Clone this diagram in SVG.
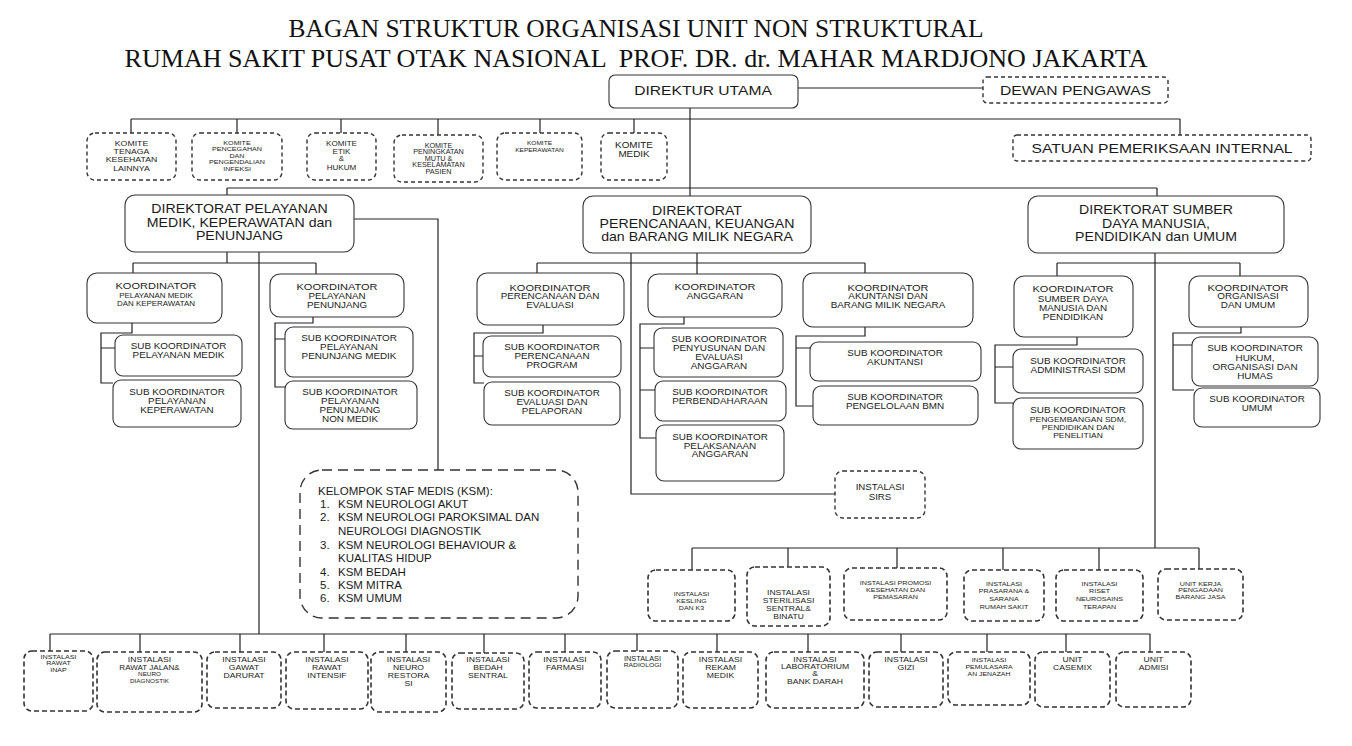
<svg xmlns="http://www.w3.org/2000/svg" width="1352" height="746" viewBox="0 0 1352 746">
<style>
text{font-family:"Liberation Sans",Arial,sans-serif;fill:#1a1a1a}
.title{font-family:"Liberation Serif","Times New Roman",serif;font-size:26px;text-anchor:middle;fill:#111}
.n{text-anchor:middle;dominant-baseline:central}
.ksm{font-size:11.5px;dominant-baseline:central}
.box{fill:#fff;stroke:#333;stroke-width:1.1}
.dbox{fill:#fff;stroke:#333;stroke-width:1.4;stroke-dasharray:4 3}
.dbox2{fill:#fff;stroke:#333;stroke-width:1.6;stroke-dasharray:5 3}
.kbox{fill:#fff;stroke:#333;stroke-width:1.4;stroke-dasharray:10 6}
.ln{fill:none;stroke:#222;stroke-width:1.2}
</style>
<rect width="1352" height="746" fill="#fff"/>
<text class="title" x="636" y="37" textLength="695" lengthAdjust="spacingAndGlyphs">BAGAN STRUKTUR ORGANISASI UNIT NON STRUKTURAL</text>
<text class="title" x="636" y="67" textLength="1023" lengthAdjust="spacingAndGlyphs" xml:space="preserve">RUMAH SAKIT PUSAT OTAK NASIONAL  PROF. DR. dr. MAHAR MARDJONO JAKARTA</text>

<g id="connectors" class="ln">
<path d="M798,88 H983"/>
<path d="M690,108 V196"/>
<path d="M131,119 H1180"/>
<path d="M131,119 V133 M237,119 V133 M341,119 V133 M438,119 V135 M540,119 V133 M634,119 V133 M1180,119 V135"/>
<path d="M227,188 H1157 M227,188 V195 M1157,188 V196"/>
<path d="M354,219 H438 V470"/>
<path d="M227,252 V263 M133,263 H316 M133,263 V273 M316,263 V274"/>
<path d="M259,252 V634"/>
<path d="M132,323 V333 H101 V383 H113 M101,348 H115"/>
<path d="M313,317 V323 H275 V387 H285 M275,339 H285"/>
<path d="M697,253 V274 M537,263 H865 M537,263 V273 M865,263 V273"/>
<path d="M631,253 V494 H835"/>
<path d="M543,325 V333 H474 V383 H484 M474,356 H483"/>
<path d="M684,317 V324 H640 V438 H656 M640,348 H654 M640,390 H655"/>
<path d="M865,327 V336 H796 V406 H813 M796,348 H810"/>
<path d="M1155,253 V548"/>
<path d="M1057,263 H1240 M1057,263 V276 M1240,263 V276"/>
<path d="M1077,337 V345 H995 V403 H1013 M995,367 H1013"/>
<path d="M1241,327 V333 H1173 V390 H1194 M1173,345 H1192"/>
<path d="M692,548 H1199 M692,548 V570 M788,548 V567 M897,548 V568 M1003,548 V570 M1099,548 V570 M1199,548 V569"/>
<path d="M50,634 H1150 M50,634 V651 M140,634 V652 M240,634 V652 M324,634 V652 M406,634 V652 M484,634 V653 M565,634 V652 M637,634 V651 M717,634 V652 M808,634 V652 M901,634 V652 M987,634 V652 M1066,634 V652 M1150,634 V652"/>
</g>

<g id="direktur-utama"><rect class="box" x="609" y="75" width="189" height="33" rx="6"/>
<text class="n" font-size="13.6" transform="matrix(1.15 0 0 1 703 0)"><tspan x="0" y="90">DIREKTUR UTAMA</tspan></text></g>
<g id="dewan-pengawas"><rect class="dbox" x="983" y="77" width="185" height="26" rx="4"/>
<text class="n" font-size="13.6" transform="matrix(1.15 0 0 1 1075.5 0)"><tspan x="0" y="90">DEWAN PENGAWAS</tspan></text></g>
<g id="spi"><rect class="dbox" x="1013" y="135" width="298" height="26" rx="4"/>
<text class="n" font-size="13.6" transform="matrix(1.15 0 0 1 1162 0)"><tspan x="0" y="148">SATUAN PEMERIKSAAN INTERNAL</tspan></text></g>

<g id="komite-tkl"><rect class="dbox" x="87" y="133" width="89" height="47" rx="8"/>
<text class="n" font-size="7.6" transform="matrix(1.15 0 0 1 131.5 0)"><tspan x="0" y="143">KOMITE</tspan><tspan x="0" y="151">TENAGA</tspan><tspan x="0" y="159">KESEHATAN</tspan><tspan x="0" y="168">LAINNYA</tspan></text></g>
<g id="komite-ppi"><rect class="dbox" x="192" y="133" width="90" height="47" rx="8"/>
<text class="n" font-size="6.2" transform="matrix(1.15 0 0 1 237 0)"><tspan x="0" y="142">KOMITE</tspan><tspan x="0" y="148.5">PENCEGAHAN</tspan><tspan x="0" y="155">DAN</tspan><tspan x="0" y="161.5">PENGENDALIAN</tspan><tspan x="0" y="168">INFEKSI</tspan></text></g>
<g id="komite-etik"><rect class="dbox" x="307" y="133" width="69" height="47" rx="8"/>
<text class="n" font-size="7" transform="matrix(1.15 0 0 1 341.5 0)"><tspan x="0" y="143">KOMITE</tspan><tspan x="0" y="151">ETIK</tspan><tspan x="0" y="158">&amp;</tspan><tspan x="0" y="167">HUKUM</tspan></text></g>
<g id="komite-mutu"><rect class="dbox" x="394" y="135" width="89" height="47" rx="8"/>
<text class="n" font-size="6.3" transform="matrix(1.15 0 0 1 438.5 0)"><tspan x="0" y="145">KOMITE</tspan><tspan x="0" y="151.5">PENINGKATAN</tspan><tspan x="0" y="158">MUTU &amp;</tspan><tspan x="0" y="164.5">KESELAMATAN</tspan><tspan x="0" y="171">PASIEN</tspan></text></g>
<g id="komite-keperawatan"><rect class="dbox" x="497" y="133" width="85" height="47" rx="8"/>
<text class="n" font-size="5.7" transform="matrix(1.15 0 0 1 539.5 0)"><tspan x="0" y="142">KOMITE</tspan><tspan x="0" y="149">KEPERAWATAN</tspan></text></g>
<g id="komite-medik"><rect class="dbox" x="601" y="133" width="66" height="47" rx="8"/>
<text class="n" font-size="8.6" transform="matrix(1.15 0 0 1 634 0)"><tspan x="0" y="145">KOMITE</tspan><tspan x="0" y="154">MEDIK</tspan></text></g>

<g id="dir-pelayanan"><rect class="box" x="125" y="195" width="229" height="57" rx="10"/>
<text class="n" font-size="12.3" transform="matrix(1.15 0 0 1 239.5 0)"><tspan x="0" y="208">DIREKTORAT PELAYANAN</tspan><tspan x="0" y="222">MEDIK, KEPERAWATAN dan</tspan><tspan x="0" y="235">PENUNJANG</tspan></text></g>
<g id="dir-perencanaan"><rect class="box" x="583" y="196" width="228" height="57" rx="10"/>
<text class="n" font-size="12.3" transform="matrix(1.15 0 0 1 697 0)"><tspan x="0" y="210">DIREKTORAT</tspan><tspan x="0" y="223">PERENCANAAN, KEUANGAN</tspan><tspan x="0" y="236">dan BARANG MILIK NEGARA</tspan></text></g>
<g id="dir-sdm"><rect class="box" x="1028" y="196" width="256" height="57" rx="10"/>
<text class="n" font-size="12.3" transform="matrix(1.15 0 0 1 1156 0)"><tspan x="0" y="209">DIREKTORAT SUMBER</tspan><tspan x="0" y="223">DAYA MANUSIA,</tspan><tspan x="0" y="236">PENDIDIKAN dan UMUM</tspan></text></g>

<g id="koord-pelayanan-medik"><rect class="box" x="87" y="273" width="135" height="50" rx="10"/>
<text class="n" font-size="9.6" transform="matrix(1.15 0 0 1 156 0)"><tspan x="0" y="285">KOORDINATOR</tspan><tspan x="0" y="295" font-size="6.9">PELAYANAN MEDIK</tspan><tspan x="0" y="303" font-size="6.9">DAN KEPERAWATAN</tspan></text></g>
<g id="koord-penunjang"><rect class="box" x="270" y="274" width="134" height="43" rx="10"/>
<text class="n" font-size="9.6" transform="matrix(1.15 0 0 1 337 0)"><tspan x="0" y="286">KOORDINATOR</tspan><tspan x="0" y="296" font-size="8.5">PELAYANAN</tspan><tspan x="0" y="305" font-size="8.5">PENUNJANG</tspan></text></g>
<g id="sub-pelayanan-medik"><rect class="box" x="115" y="335" width="127" height="41" rx="8"/>
<text class="n" font-size="8.6" transform="matrix(1.15 0 0 1 178.5 0)"><tspan x="0" y="346">SUB KOORDINATOR</tspan><tspan x="0" y="355">PELAYANAN MEDIK</tspan></text></g>
<g id="sub-keperawatan"><rect class="box" x="113" y="380" width="128" height="47" rx="8"/>
<text class="n" font-size="8.6" transform="matrix(1.15 0 0 1 177 0)"><tspan x="0" y="392">SUB KOORDINATOR</tspan><tspan x="0" y="401">PELAYANAN</tspan><tspan x="0" y="410">KEPERAWATAN</tspan></text></g>
<g id="sub-penunjang-medik"><rect class="box" x="285" y="327" width="128" height="50" rx="8"/>
<text class="n" font-size="8.6" transform="matrix(1.15 0 0 1 349 0)"><tspan x="0" y="338">SUB KOORDINATOR</tspan><tspan x="0" y="347">PELAYANAN</tspan><tspan x="0" y="356">PENUNJANG MEDIK</tspan></text></g>
<g id="sub-penunjang-nonmedik"><rect class="box" x="285" y="381" width="132" height="48" rx="8"/>
<text class="n" font-size="8.6" transform="matrix(1.15 0 0 1 350 0)"><tspan x="0" y="392">SUB KOORDINATOR</tspan><tspan x="0" y="401">PELAYANAN</tspan><tspan x="0" y="410">PENUNJANG</tspan><tspan x="0" y="419">NON MEDIK</tspan></text></g>

<g id="koord-perencanaan"><rect class="box" x="477" y="273" width="147" height="52" rx="10"/>
<text class="n" font-size="9.6" transform="matrix(1.15 0 0 1 550 0)"><tspan x="0" y="287">KOORDINATOR</tspan><tspan x="0" y="296" font-size="8.6">PERENCANAAN DAN</tspan><tspan x="0" y="305" font-size="8.6">EVALUASI</tspan></text></g>
<g id="koord-anggaran"><rect class="box" x="648" y="274" width="134" height="43" rx="10"/>
<text class="n" font-size="9.6" transform="matrix(1.15 0 0 1 715 0)"><tspan x="0" y="286">KOORDINATOR</tspan><tspan x="0" y="296" font-size="8.6">ANGGARAN</tspan></text></g>
<g id="koord-akuntansi"><rect class="box" x="803" y="273" width="170" height="54" rx="10"/>
<text class="n" font-size="9.6" transform="matrix(1.15 0 0 1 888 0)"><tspan x="0" y="287">KOORDINATOR</tspan><tspan x="0" y="296" font-size="8.6">AKUNTANSI DAN</tspan><tspan x="0" y="305" font-size="8.6">BARANG MILIK NEGARA</tspan></text></g>
<g id="sub-perencanaan-program"><rect class="box" x="483" y="336" width="138" height="41" rx="8"/>
<text class="n" font-size="8.6" transform="matrix(1.15 0 0 1 552 0)"><tspan x="0" y="347">SUB KOORDINATOR</tspan><tspan x="0" y="356">PERENCANAAN</tspan><tspan x="0" y="365">PROGRAM</tspan></text></g>
<g id="sub-evaluasi"><rect class="box" x="484" y="382" width="136" height="43" rx="8"/>
<text class="n" font-size="8.6" transform="matrix(1.15 0 0 1 552 0)"><tspan x="0" y="393">SUB KOORDINATOR</tspan><tspan x="0" y="402">EVALUASI DAN</tspan><tspan x="0" y="411">PELAPORAN</tspan></text></g>
<g id="sub-penyusunan"><rect class="box" x="654" y="328" width="129" height="49" rx="8"/>
<text class="n" font-size="8.6" transform="matrix(1.15 0 0 1 719 0)"><tspan x="0" y="339">SUB KOORDINATOR</tspan><tspan x="0" y="348">PENYUSUNAN DAN</tspan><tspan x="0" y="357">EVALUASI</tspan><tspan x="0" y="366">ANGGARAN</tspan></text></g>
<g id="sub-perbendaharaan"><rect class="box" x="655" y="381" width="131" height="40" rx="8"/>
<text class="n" font-size="8.6" transform="matrix(1.15 0 0 1 720 0)"><tspan x="0" y="392">SUB KOORDINATOR</tspan><tspan x="0" y="401">PERBENDAHARAAN</tspan></text></g>
<g id="sub-pelaksanaan"><rect class="box" x="656" y="425" width="128" height="56" rx="8"/>
<text class="n" font-size="8.6" transform="matrix(1.15 0 0 1 720 0)"><tspan x="0" y="437">SUB KOORDINATOR</tspan><tspan x="0" y="446">PELAKSANAAN</tspan><tspan x="0" y="454">ANGGARAN</tspan></text></g>
<g id="sub-akuntansi"><rect class="box" x="810" y="342" width="171" height="39" rx="8"/>
<text class="n" font-size="8.6" transform="matrix(1.15 0 0 1 895 0)"><tspan x="0" y="353">SUB KOORDINATOR</tspan><tspan x="0" y="362">AKUNTANSI</tspan></text></g>
<g id="sub-bmn"><rect class="box" x="813" y="386" width="165" height="39" rx="8"/>
<text class="n" font-size="8.6" transform="matrix(1.15 0 0 1 895 0)"><tspan x="0" y="397">SUB KOORDINATOR</tspan><tspan x="0" y="406">PENGELOLAAN BMN</tspan></text></g>
<g id="instalasi-sirs"><rect class="dbox" x="835" y="471" width="90" height="47" rx="8"/>
<text class="n" font-size="8.4" transform="matrix(1.15 0 0 1 880 0)"><tspan x="0" y="487">INSTALASI</tspan><tspan x="0" y="497">SIRS</tspan></text></g>

<g id="koord-sdm"><rect class="box" x="1014" y="276" width="119" height="61" rx="10"/>
<text class="n" font-size="9.6" transform="matrix(1.15 0 0 1 1073 0)"><tspan x="0" y="288">KOORDINATOR</tspan><tspan x="0" y="299" font-size="8.6">SUMBER DAYA</tspan><tspan x="0" y="308" font-size="8.6">MANUSIA DAN</tspan><tspan x="0" y="317" font-size="8.6">PENDIDIKAN</tspan></text></g>
<g id="koord-organisasi"><rect class="box" x="1189" y="276" width="119" height="51" rx="10"/>
<text class="n" font-size="9.6" transform="matrix(1.15 0 0 1 1248 0)"><tspan x="0" y="287">KOORDINATOR</tspan><tspan x="0" y="296" font-size="8.6">ORGANISASI</tspan><tspan x="0" y="305" font-size="8.6">DAN UMUM</tspan></text></g>
<g id="sub-adm-sdm"><rect class="box" x="1013" y="349" width="130" height="44" rx="8"/>
<text class="n" font-size="8.6" transform="matrix(1.15 0 0 1 1078 0)"><tspan x="0" y="361">SUB KOORDINATOR</tspan><tspan x="0" y="370">ADMINISTRASI SDM</tspan></text></g>
<g id="sub-pengembangan"><rect class="box" x="1013" y="398" width="130" height="51" rx="8"/>
<text class="n" font-size="8.6" transform="matrix(1.15 0 0 1 1078 0)"><tspan x="0" y="410">SUB KOORDINATOR</tspan><tspan x="0" y="419" font-size="7.4">PENGEMBANGAN SDM,</tspan><tspan x="0" y="427" font-size="7.4">PENDIDIKAN DAN</tspan><tspan x="0" y="435" font-size="7.4">PENELITIAN</tspan></text></g>
<g id="sub-hukum"><rect class="box" x="1192" y="337" width="126" height="49" rx="8"/>
<text class="n" font-size="8.6" transform="matrix(1.15 0 0 1 1255 0)"><tspan x="0" y="348">SUB KOORDINATOR</tspan><tspan x="0" y="358">HUKUM,</tspan><tspan x="0" y="367">ORGANISASI DAN</tspan><tspan x="0" y="376">HUMAS</tspan></text></g>
<g id="sub-umum"><rect class="box" x="1194" y="388" width="126" height="39" rx="8"/>
<text class="n" font-size="8.6" transform="matrix(1.15 0 0 1 1257 0)"><tspan x="0" y="399">SUB KOORDINATOR</tspan><tspan x="0" y="408">UMUM</tspan></text></g>

<g id="ksm"><rect class="kbox" x="300" y="470" width="278" height="148" rx="22"/>
<text class="ksm" x="318" y="491">KELOMPOK STAF MEDIS (KSM):</text>
<text class="ksm"><tspan x="320" y="504">1.</tspan><tspan x="338" y="504">KSM NEUROLOGI AKUT</tspan><tspan x="320" y="517">2.</tspan><tspan x="338" y="517">KSM NEUROLOGI PAROKSIMAL DAN</tspan><tspan x="338" y="531">NEUROLOGI DIAGNOSTIK</tspan><tspan x="320" y="545">3.</tspan><tspan x="338" y="545">KSM NEUROLOGI BEHAVIOUR &amp;</tspan><tspan x="338" y="558">KUALITAS HIDUP</tspan><tspan x="320" y="572">4.</tspan><tspan x="338" y="572">KSM BEDAH</tspan><tspan x="320" y="585">5.</tspan><tspan x="338" y="585">KSM MITRA</tspan><tspan x="320" y="598">6.</tspan><tspan x="338" y="598">KSM UMUM</tspan></text></g>

<g id="instalasi-kesling"><rect class="dbox2" x="648" y="570" width="87" height="51" rx="8"/>
<text class="n" font-size="6.1" transform="matrix(1.15 0 0 1 691.5 0)"><tspan x="0" y="593">INSTALASI</tspan><tspan x="0" y="600">KESLING</tspan><tspan x="0" y="607">DAN K3</tspan></text></g>
<g id="instalasi-sterilisasi"><rect class="dbox2" x="747" y="567" width="83" height="59" rx="8"/>
<text class="n" font-size="7.4" transform="matrix(1.15 0 0 1 788.5 0)"><tspan x="0" y="592">INSTALASI</tspan><tspan x="0" y="600">STERILISASI</tspan><tspan x="0" y="608">SENTRAL&amp;</tspan><tspan x="0" y="616">BINATU</tspan></text></g>
<g id="instalasi-promosi"><rect class="dbox2" x="844" y="568" width="103" height="52" rx="8"/>
<text class="n" font-size="6.2" transform="matrix(1.15 0 0 1 895.5 0)"><tspan x="0" y="582">INSTALASI PROMOSI</tspan><tspan x="0" y="589">KESEHATAN DAN</tspan><tspan x="0" y="596">PEMASARAN</tspan></text></g>
<g id="instalasi-prasarana"><rect class="dbox2" x="964" y="570" width="80" height="51" rx="8"/>
<text class="n" font-size="6.2" transform="matrix(1.15 0 0 1 1004 0)"><tspan x="0" y="583">INSTALASI</tspan><tspan x="0" y="590">PRASARANA &amp;</tspan><tspan x="0" y="598">SARANA</tspan><tspan x="0" y="606">RUMAH SAKIT</tspan></text></g>
<g id="instalasi-riset"><rect class="dbox2" x="1056" y="570" width="87" height="51" rx="8"/>
<text class="n" font-size="6.2" transform="matrix(1.15 0 0 1 1099.5 0)"><tspan x="0" y="583">INSTALASI</tspan><tspan x="0" y="590">RISET</tspan><tspan x="0" y="598">NEUROSAINS</tspan><tspan x="0" y="606">TERAPAN</tspan></text></g>
<g id="unit-pengadaan"><rect class="dbox2" x="1158" y="569" width="85" height="51" rx="8"/>
<text class="n" font-size="6.2" transform="matrix(1.15 0 0 1 1200.5 0)"><tspan x="0" y="583">UNIT KERJA</tspan><tspan x="0" y="589.5">PENGADAAN</tspan><tspan x="0" y="596">BARANG JASA</tspan></text></g>

<g id="instalasi-rawat-inap"><rect class="dbox2" x="24" y="651" width="69" height="60" rx="8"/>
<text class="n" font-size="6.2" transform="matrix(1.15 0 0 1 58.5 0)"><tspan x="0" y="656">INSTALASI</tspan><tspan x="0" y="662.5">RAWAT</tspan><tspan x="0" y="669">INAP</tspan></text></g>
<g id="instalasi-rawat-jalan"><rect class="dbox2" x="97" y="652" width="105" height="60" rx="8"/>
<text class="n" font-size="7.5" transform="matrix(1.15 0 0 1 149.5 0)"><tspan x="0" y="659">INSTALASI</tspan><tspan x="0" y="667" font-size="7">RAWAT JALAN&amp;</tspan><tspan x="0" y="674" font-size="5.5">NEURO</tspan><tspan x="0" y="681" font-size="5.5">DIAGNOSTIK</tspan></text></g>
<g id="instalasi-gawat-darurat"><rect class="dbox2" x="207" y="652" width="74" height="56" rx="8"/>
<text class="n" font-size="7.5" transform="matrix(1.15 0 0 1 244 0)"><tspan x="0" y="659">INSTALASI</tspan><tspan x="0" y="667">GAWAT</tspan><tspan x="0" y="675">DARURAT</tspan></text></g>
<g id="instalasi-rawat-intensif"><rect class="dbox2" x="286" y="652" width="82" height="57" rx="8"/>
<text class="n" font-size="7.5" transform="matrix(1.15 0 0 1 327 0)"><tspan x="0" y="659">INSTALASI</tspan><tspan x="0" y="667">RAWAT</tspan><tspan x="0" y="675">INTENSIF</tspan></text></g>
<g id="instalasi-neuro-restorasi"><rect class="dbox2" x="371" y="652" width="75" height="60" rx="8"/>
<text class="n" font-size="7.5" transform="matrix(1.15 0 0 1 408.5 0)"><tspan x="0" y="659">INSTALASI</tspan><tspan x="0" y="667">NEURO</tspan><tspan x="0" y="675">RESTORA</tspan><tspan x="0" y="683">SI</tspan></text></g>
<g id="instalasi-bedah-sentral"><rect class="dbox2" x="452" y="653" width="72" height="56" rx="8"/>
<text class="n" font-size="7.5" transform="matrix(1.15 0 0 1 488 0)"><tspan x="0" y="659">INSTALASI</tspan><tspan x="0" y="667">BEDAH</tspan><tspan x="0" y="675">SENTRAL</tspan></text></g>
<g id="instalasi-farmasi"><rect class="dbox2" x="529" y="652" width="72" height="56" rx="8"/>
<text class="n" font-size="7.5" transform="matrix(1.15 0 0 1 565 0)"><tspan x="0" y="659">INSTALASI</tspan><tspan x="0" y="667">FARMASI</tspan></text></g>
<g id="instalasi-radiologi"><rect class="dbox2" x="607" y="651" width="71" height="57" rx="8"/>
<text class="n" font-size="6.4" transform="matrix(1.15 0 0 1 642.5 0)"><tspan x="0" y="658">INSTALASI</tspan><tspan x="0" y="664.5" font-size="5.9">RADIOLOGI</tspan></text></g>
<g id="instalasi-rekam-medik"><rect class="dbox2" x="683" y="652" width="75" height="56" rx="8"/>
<text class="n" font-size="7.5" transform="matrix(1.15 0 0 1 720.5 0)"><tspan x="0" y="659">INSTALASI</tspan><tspan x="0" y="667">REKAM</tspan><tspan x="0" y="675">MEDIK</tspan></text></g>
<g id="instalasi-laboratorium"><rect class="dbox2" x="766" y="652" width="98" height="56" rx="8"/>
<text class="n" font-size="7.5" transform="matrix(1.15 0 0 1 815 0)"><tspan x="0" y="659">INSTALASI</tspan><tspan x="0" y="666">LABORATORIUM</tspan><tspan x="0" y="673">&amp;</tspan><tspan x="0" y="681">BANK DARAH</tspan></text></g>
<g id="instalasi-gizi"><rect class="dbox2" x="869" y="652" width="74" height="55" rx="8"/>
<text class="n" font-size="7.5" transform="matrix(1.15 0 0 1 906 0)"><tspan x="0" y="659">INSTALASI</tspan><tspan x="0" y="667">GIZI</tspan></text></g>
<g id="instalasi-pemulasaraan"><rect class="dbox2" x="948" y="652" width="82" height="53" rx="8"/>
<text class="n" font-size="6" transform="matrix(1.15 0 0 1 989 0)"><tspan x="0" y="659">INSTALASI</tspan><tspan x="0" y="666">PEMULASARA</tspan><tspan x="0" y="673">AN JENAZAH</tspan></text></g>
<g id="unit-casemix"><rect class="dbox2" x="1035" y="652" width="75" height="55" rx="8"/>
<text class="n" font-size="7.5" transform="matrix(1.15 0 0 1 1072.5 0)"><tspan x="0" y="659">UNIT</tspan><tspan x="0" y="667">CASEMIX</tspan></text></g>
<g id="unit-admisi"><rect class="dbox2" x="1116" y="652" width="75" height="55" rx="8"/>
<text class="n" font-size="7.5" transform="matrix(1.15 0 0 1 1153.5 0)"><tspan x="0" y="659">UNIT</tspan><tspan x="0" y="667">ADMISI</tspan></text></g>
</svg>
